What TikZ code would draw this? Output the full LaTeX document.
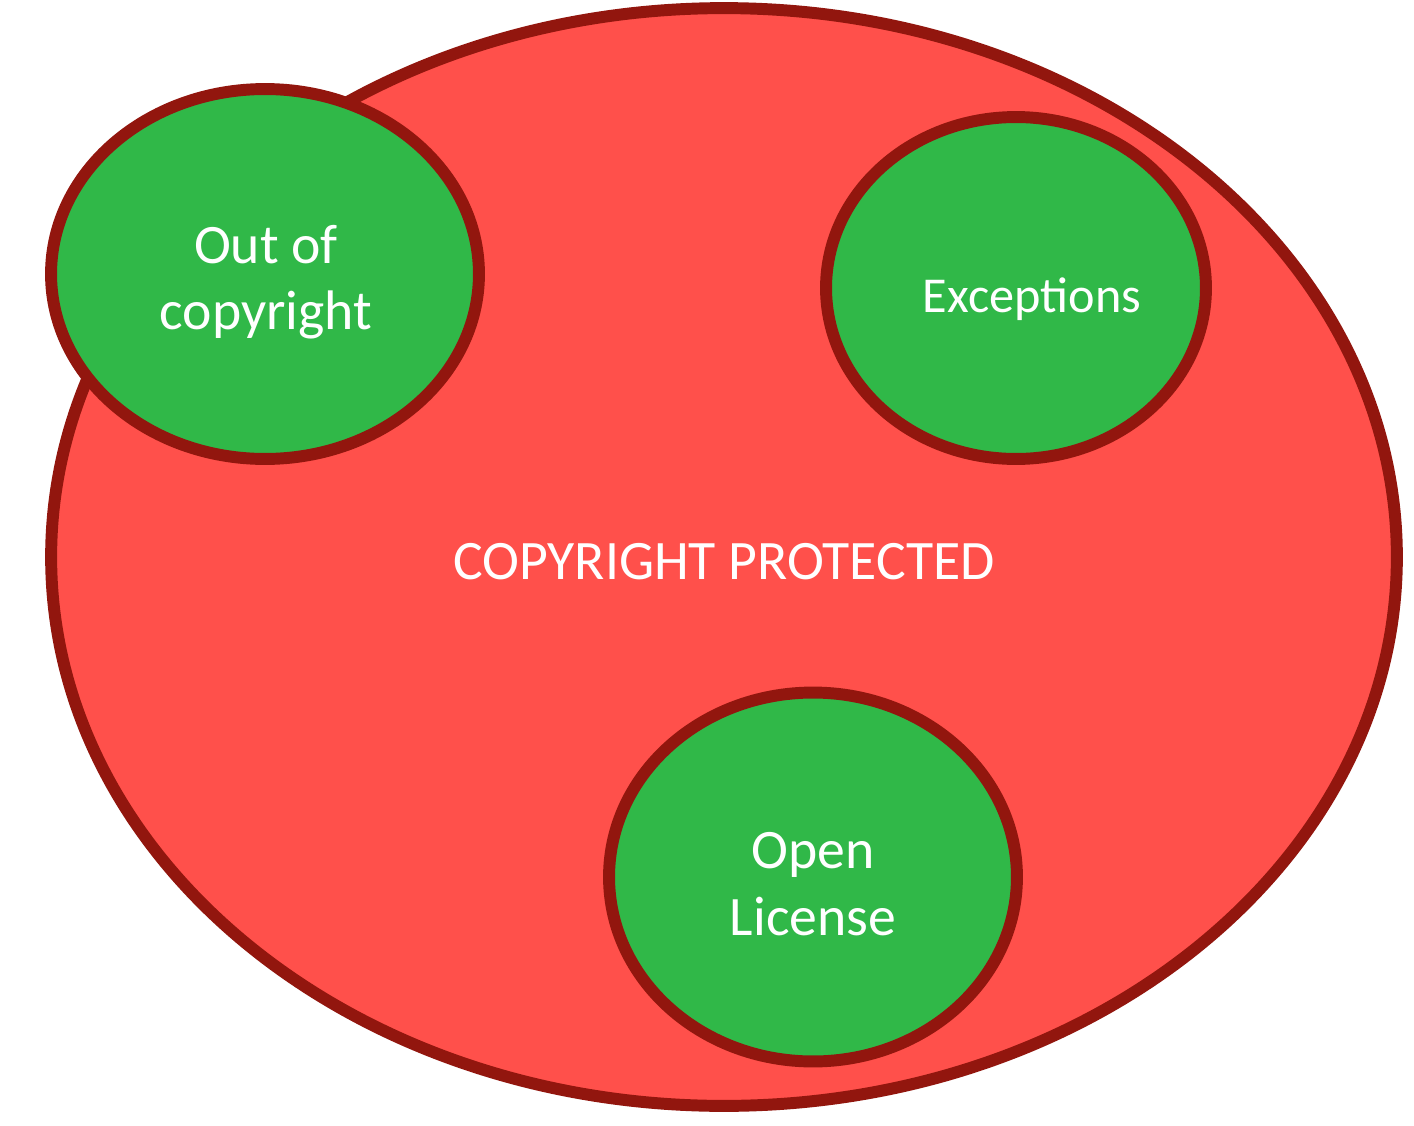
\documentclass[tikz,border=0pt]{standalone}
\usepackage{fontspec}
\setmainfont{Carlito}
\usetikzlibrary{shapes.geometric,positioning}
\definecolor{copyred}{RGB}{255,80,75}
\definecolor{rimred}{RGB}{146,22,14}
\definecolor{freegreen}{RGB}{48,184,72}
\tikzset{
  protected area/.style={ellipse, draw=rimred, fill=copyred, line width=6.8pt},
  free area/.style={ellipse, draw=rimred, fill=freegreen, line width=6.8pt},
  area text/.style={text=white, align=center, inner sep=0pt,
    font=\fontsize{31.7}{37.8}\selectfont},
  small area text/.style={area text, font=\fontsize{28.6}{34}\selectfont},
}

\begin{document}
\begin{tikzpicture}[x=0.02cm, y=-0.02cm]
  \useasboundingbox (0,0) rectangle (1414,1126);

  % Copyright protected region
  \node[protected area, minimum width=26.92cm, minimum height=21.96cm] (prot) at (724,557) {};
  \node[area text] (prottext) at (724,562) {COPYRIGHT PROTECTED};

  % Out of copyright
  \node[free area, minimum width=8.56cm, minimum height=7.40cm] (out) at (265,274) {};
  \node[area text] (outtext) at (266,282) {Out of\\copyright};

  % Exceptions
  \node[free area, minimum width=7.60cm, minimum height=6.84cm] (exc) at (1016,288) {};
  \node[small area text] (exctext) at (1032,299) {Exceptions};

  % Open license
  \node[free area, minimum width=8.16cm, minimum height=7.38cm] (open) at (813,877) {};
  \node[area text] (opentext) at (813,884) {Open\\License};
\end{tikzpicture}
\end{document}
